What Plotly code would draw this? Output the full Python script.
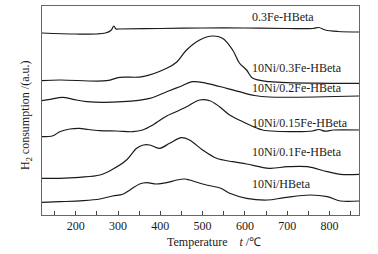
import plotly.graph_objects as go

# Series data (temperature in °C, H2 consumption in a.u., offset stacked)
t_03fe = [120, 200, 250, 270, 283, 290, 295, 300, 400, 500, 600, 700, 760, 775, 790, 820, 870]
v_03fe = [182, 181, 181, 182, 184.5, 189, 186, 186, 186.5, 187, 187, 186.5, 186.5, 187.5, 185, 183.5, 183]

t_ni03fe = [120, 162, 273, 304, 358, 415, 439, 462, 493, 524, 547, 571, 587, 604, 618, 658, 800, 870]
v_ni03fe = [134.3, 135, 134.3, 137.7, 138.3, 146.7, 153, 165, 175, 179, 176.7, 165, 152, 145, 137, 133.3, 131.7, 131.7]

t_ni02fe = [120, 139, 169, 193, 226, 311, 375, 415, 446, 476, 509, 557, 587, 623, 658, 870]
v_ni02fe = [114.3, 115.7, 117.7, 115.7, 113.3, 113.3, 116.7, 123.3, 128.3, 133.3, 131.7, 126.7, 123.3, 119.5, 118, 119]

t_ni015fe = [120, 146, 162, 186, 209, 226, 257, 297, 335, 358, 382, 415, 429, 462, 493, 517, 540, 564, 595, 628, 642, 722, 760, 775, 790, 810, 870]
v_ni015fe = [78.3, 79.3, 83.3, 86, 86.7, 85.7, 84.3, 84, 83.3, 85, 90, 99, 101.7, 108.3, 115, 114.3, 108.3, 100, 93.3, 87, 85, 83.3, 84, 85.5, 83.8, 85, 85]

t_ni01fe = [120, 162, 209, 257, 287, 320, 344, 360, 375, 398, 422, 450, 469, 500, 533, 571, 604, 658, 701, 748, 795, 826, 870]
v_ni01fe = [36.7, 36.7, 37.7, 40, 45.7, 55, 66.7, 70, 70, 66.7, 71.7, 77.3, 75, 65, 56.7, 53.3, 51, 46.7, 48.3, 48.3, 43.3, 40.7, 40.7]

t_nihb = [120, 162, 217, 257, 287, 311, 328, 351, 368, 391, 415, 439, 458, 469, 509, 543, 564, 604, 653, 693, 754, 795, 826, 870]
v_nihb = [12.7, 13.3, 14.3, 16, 19, 20.7, 25, 31, 32.3, 31, 32.3, 35, 36, 35, 30, 26.7, 21.7, 16.7, 15, 17.3, 20, 18.3, 14, 14]

series_names = ["0.3Fe-HBeta", "10Ni/0.3Fe-HBeta", "10Ni/0.2Fe-HBeta",
                "10Ni/0.15Fe-HBeta", "10Ni/0.1Fe-HBeta", "10Ni/HBeta"]
series_t = [t_03fe, t_ni03fe, t_ni02fe, t_ni015fe, t_ni01fe, t_nihb]
series_v = [v_03fe, v_ni03fe, v_ni02fe, v_ni015fe, v_ni01fe, v_nihb]
label_y = [198, 147, 127, 92, 63, 31]

label_x = 611
font_family = "Liberation Serif"
ink = "#1a1a1a"

fig = go.Figure()
annotations = []
for name, tx, vy, ly in zip(series_names, series_t, series_v, label_y):
    fig.add_trace(go.Scatter(x=tx, y=vy, mode="lines", name=name,
                             line=dict(color=ink, width=1.2, shape="spline", smoothing=1.0),
                             showlegend=False, hoverinfo="skip"))
    annotations.append(dict(x=label_x, y=ly, xref="x", yref="y", text=name, showarrow=False,
                            xanchor="left", yanchor="middle",
                            font=dict(family=font_family, size=12, color=ink)))

annotations.append(dict(xref="paper", yref="paper", x=(214 - 42) / 317, y=(215 - 242) / 209,
                        text="Temperature    <i>t</i> /℃", showarrow=False,
                        xanchor="center", yanchor="middle",
                        font=dict(family=font_family, size=12, color=ink)))
annotations.append(dict(xref="paper", yref="paper", x=(26 - 42) / 317, y=(215 - 115) / 209,
                        text="H<sub>2</sub> consumption /(a.u.)", showarrow=False, textangle=-90,
                        xanchor="center", yanchor="middle",
                        font=dict(family=font_family, size=12, color=ink)))

fig.update_layout(
    width=378, height=254,
    margin=dict(l=42, r=19, t=6, b=39),
    paper_bgcolor="white", plot_bgcolor="white",
    font=dict(family=font_family, size=12, color=ink),
    annotations=annotations,
    xaxis=dict(range=[120, 870], dtick=100, tick0=0, ticks="inside", ticklen=4, tickwidth=1,
               tickcolor="#444", showgrid=False, zeroline=False, showline=True, linecolor="#666",
               linewidth=1, mirror=True,
               minor=dict(dtick=50, tick0=0, ticks="inside", ticklen=4, tickcolor="#444", showgrid=False),
               tickfont=dict(family=font_family, size=12, color=ink)),
    yaxis=dict(range=[0, 209], showticklabels=False, ticks="", showgrid=False, zeroline=False,
               showline=True, linecolor="#666", linewidth=1, mirror=True),
)

fig.write_html("out.html", config={"displayModeBar": False, "staticPlot": True},
               post_script="document.body.style.margin='0px';document.body.style.overflow='hidden';")
